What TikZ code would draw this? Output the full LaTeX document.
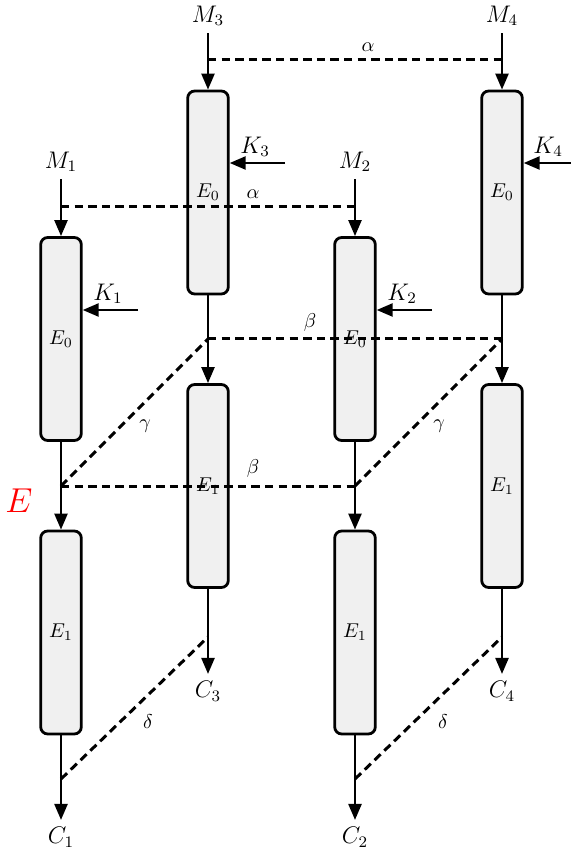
\documentclass[tikz,border=0pt]{standalone}
\usepackage{xcolor}
\usepackage{tikz}
\usetikzlibrary{arrows.meta,positioning}

\begin{document}
\begin{tikzpicture}[
    x=0.5pt, y=-0.5pt,
    col/.style={rectangle, draw, line width=1.4pt, rounded corners=3.5pt, fill=black!6, minimum width=20.3pt, minimum height=101.5pt, inner sep=0pt, font=\normalsize},
    flow/.style={-{Triangle[length=8pt,width=6.5pt]}, line width=1.2pt},
    link/.style={line width=1.5pt, dash pattern=on 4.2pt off 2.6pt},
    lab/.style={font=\normalsize},
]
    \useasboundingbox (0,0) rectangle (571,849);

    % columns, front (1,2) and back (3,4)
    \node[col] (E01) at (61,339) {$E_0$};
    \node[col] (E11) at (61,632.5) {$E_1$};
    \node[col] (E02) at (355,339) {$E_0$};
    \node[col] (E12) at (355,632.5) {$E_1$};
    \node[col] (E03) at (208,192.5) {$E_0$};
    \node[col] (E13) at (208,486) {$E_1$};
    \node[col] (E04) at (502,192.5) {$E_0$};
    \node[col] (E14) at (502,486) {$E_1$};

    % inputs and outputs
    \node[font=\large] (M1) at (61,162) {$M_1$};
    \node[font=\large] (M2) at (355,162) {$M_2$};
    \node[font=\large] (M3) at (208,16) {$M_3$};
    \node[font=\large] (M4) at (502,16) {$M_4$};
    \node[font=\large] (C1) at (61,837) {$C_1$};
    \node[font=\large] (C2) at (355,837) {$C_2$};
    \node[font=\large] (C3) at (208,691) {$C_3$};
    \node[font=\large] (C4) at (502,691) {$C_4$};

    \draw[flow] (M1) -- (E01);
    \draw[flow] (M2) -- (E02);
    \draw[flow] (M3) -- (E03);
    \draw[flow] (M4) -- (E04);
    \draw[flow] (E01) -- (E11);
    \draw[flow] (E02) -- (E12);
    \draw[flow] (E03) -- (E13);
    \draw[flow] (E04) -- (E14);
    \draw[flow] (E11) -- (C1);
    \draw[flow] (E12) -- (C2);
    \draw[flow] (E13) -- (C3);
    \draw[flow] (E14) -- (C4);

    % side feeds
    \coordinate (k1) at (138,310);
    \coordinate (k2) at (432,310);
    \coordinate (k3) at (285,163);
    \coordinate (k4) at (571,163);
    \draw[flow] (k1) -- (E01.east |- k1);
    \draw[flow] (k2) -- (E02.east |- k2);
    \draw[flow] (k3) -- (E03.east |- k3);
    \draw[flow] (k4) -- (E04.east |- k4);
    \node[font=\large] (K1) at (108,294) {$K_1$};
    \node[font=\large] (K2) at (402,294) {$K_2$};
    \node[font=\large] (K3) at (255,147) {$K_3$};
    \node[font=\large] (K4) at (548,147) {$K_4$};

    % links
    \coordinate (a1) at (61,207);
    \coordinate (a2) at (355,207);
    \coordinate (a3) at (208,60);
    \coordinate (a4) at (502,60);
    \coordinate (b1) at (61,486);
    \coordinate (b2) at (355,486);
    \coordinate (b3) at (208,339);
    \coordinate (b4) at (502,339);
    \coordinate (d1) at (61,779);
    \coordinate (d2) at (355,779);
    \coordinate (d3) at (208,637);
    \coordinate (d4) at (502,637);
    \draw[link] (a1) -- (a2);
    \draw[link] (a3) -- (a4);
    \draw[link] (b1) -- (b2);
    \draw[link] (b3) -- (b4);
    \draw[link] (b1) -- (b3);
    \draw[link] (b2) -- (b4);
    \draw[link] (d1) -- (d3);
    \draw[link] (d2) -- (d4);

    \node[lab] (al1) at (253,194) {$\alpha$};
    \node[lab] (al2) at (368,47) {$\alpha$};
    \node[lab] (be1) at (253,468) {$\beta$};
    \node[lab] (be2) at (310,323) {$\beta$};
    \node[lab] (ga1) at (145,426) {$\gamma$};
    \node[lab] (ga2) at (439,426) {$\gamma$};
    \node[lab] (de1) at (148,722) {$\delta$};
    \node[lab] (de2) at (443,722) {$\delta$};

    \node[text=red, font=\LARGE] (E) at (19,501) {$E$};
\end{tikzpicture}
\end{document}
